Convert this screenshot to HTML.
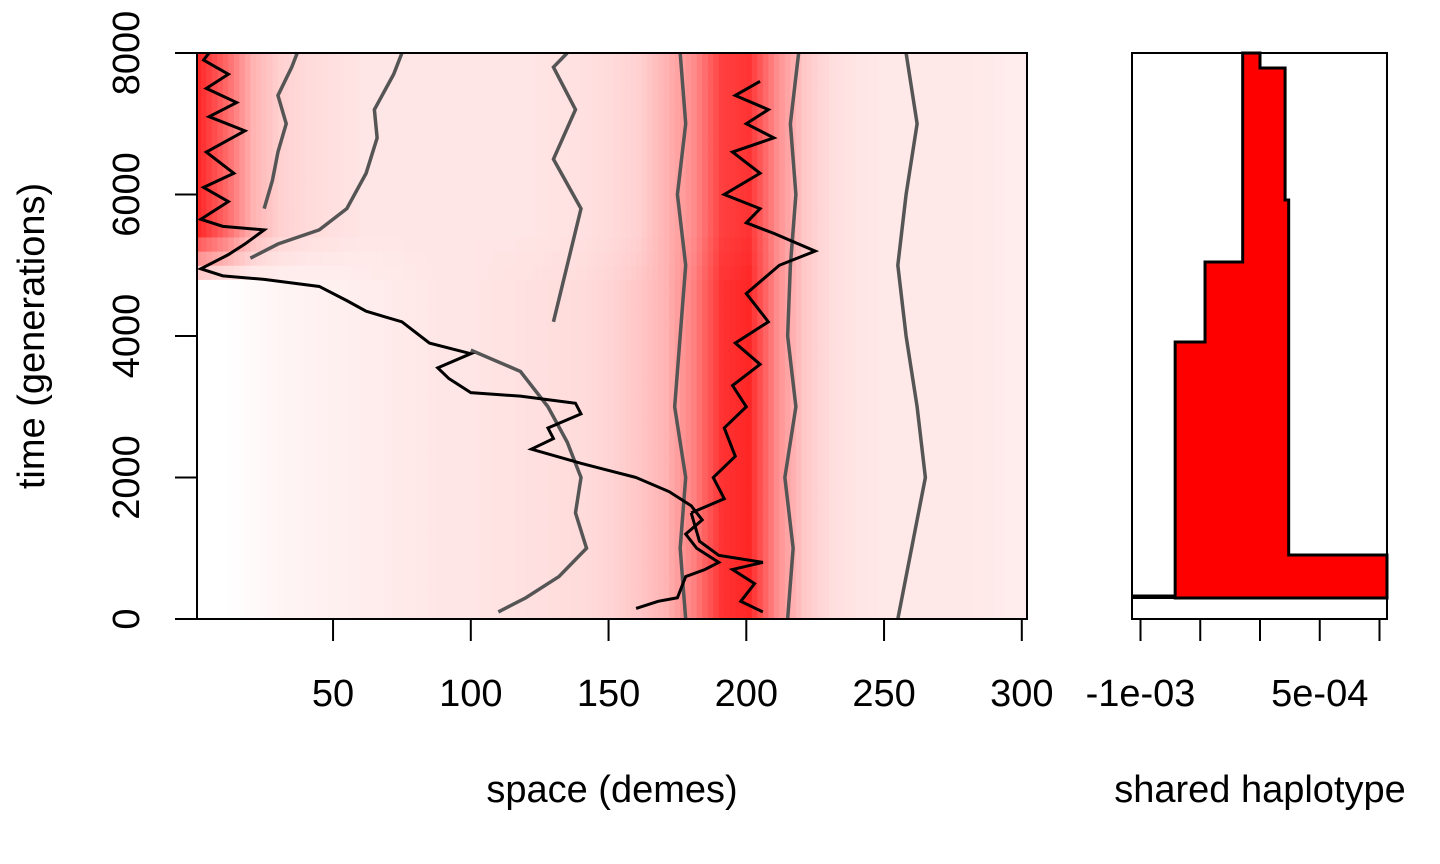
<!DOCTYPE html>
<html><head><meta charset="utf-8"><style>
html,body{margin:0;padding:0;background:#fff;}
svg{display:block;font-family:"Liberation Sans",sans-serif;}
</style></head><body>
<svg id="chart" width="1440" height="864" viewBox="0 0 1440 864">
<g id="heat"></g>
<g id="contours"></g>
<g id="lineages"></g>
<rect x="197" y="53" width="830" height="566" fill="none" stroke="#000" stroke-width="2"/>
<g id="xaxis"></g>
<g id="yaxis"></g>
<text x="612" y="802" font-size="38" text-anchor="middle">space (demes)</text>
<text transform="translate(44,336) rotate(-90)" font-size="38" text-anchor="middle">time (generations)</text>
<g id="hist"></g>
<rect x="1132" y="53" width="255" height="566" fill="none" stroke="#000" stroke-width="2"/>
<g id="x2axis"></g>
<text x="1260" y="802" font-size="38" text-anchor="middle">shared haplotype</text>
</svg>
<script>
// ---- data ----
const demeCols = [0,10,20,30,40,50,60,70,80,90,100,110,120,130,140,150,160,170,180,190,200,210,220,230,240,250,260,270,280,290,300];
const upperIntensity = [0.85,0.6,0.3,0.18,0.14,0.12,0.1,0.1,0.1,0.1,0.1,0.1,0.1,0.11,0.12,0.14,0.18,0.3,0.45,0.75,0.8,0.45,0.22,0.13,0.1,0.09,0.09,0.09,0.09,0.08,0.07];
const lowerIntensity = [0,0,0.02,0.04,0.05,0.06,0.07,0.08,0.09,0.1,0.1,0.11,0.12,0.13,0.14,0.17,0.22,0.3,0.5,0.8,0.85,0.45,0.22,0.13,0.1,0.09,0.09,0.09,0.09,0.08,0.07];
const xTicks = [50,100,150,200,250,300];
const yTicks = [0,2000,4000,6000,8000];
const lineageA = [[160,150],[168,250],[175,300],[178,600],[185,700],[190,800],[182,1000],[178,1200],[184,1400],[180,1600],[172,1800],[160,2000],[150,2100],[140,2200],[122,2400],[130,2550],[128,2700],[140,2900],[138,3050],[118,3150],[100,3200],[92,3400],[88,3550],[100,3750],[85,3900],[75,4200],[62,4350],[55,4500],[45,4700],[25,4800],[10,4850],[2,4950],[12,5150],[18,5300],[25,5500],[10,5550],[2,5650],[12,5900],[3,6100],[14,6300],[4,6600],[18,6900],[5,7100],[15,7300],[4,7500],[12,7700],[3,7900],[5,8000]];
const lineageB = [[180,1500],[192,1700],[188,2000],[196,2300],[192,2700],[200,3000],[195,3300],[205,3600],[196,3900],[208,4200],[200,4600],[212,5000],[225,5200],[210,5450],[200,5600],[205,5800],[192,6000],[205,6300],[195,6600],[210,6800],[200,7000],[208,7200],[196,7400],[205,7600]];
const lineageC = [[206,100],[198,250],[203,500],[195,700],[206,800],[190,900],[183,1100],[180,1500]];
const contour50L = [[25,5800],[28,6200],[30,6600],[33,7000],[30,7400],[35,7800],[37,8000]];
const contour05L = [[20,5100],[30,5300],[45,5500],[55,5800],[62,6300],[66,6800],[65,7200],[72,7700],[75,8000]];
const contour05M = [[100,3800],[118,3500],[128,3000],[135,2500],[140,2000],[138,1500],[142,1000],[132,600],[120,300],[110,100],[130,4200],[135,5000],[140,5800],[130,6500],[138,7200],[130,7800],[135,8000]];
const contour50M = [[178,0],[176,1000],[178,2000],[174,3000],[176,4000],[178,5000],[175,6000],[178,7000],[176,8000]];
const contour50R = [[215,0],[217,1000],[214,2000],[218,3000],[215,4000],[216,5000],[218,6000],[216,7000],[219,8000]];
const contour05R = [[255,0],[260,1000],[265,2000],[262,3000],[258,4000],[255,5000],[258,6000],[262,7000],[258,8000]];
const histTimes = [297,3915,5046,8000];
const histLeft = [-7.1e-4,-4.6e-4,-1.45e-4];
const histRightTimes = [297,905,5922,7788,8000];
const histRight = [1.07e-3,2.4e-4,2.1e-4,0];
const x2Ticks = [-1e-3,-5e-4,0,5e-4,1e-3];
const x2Labels = ["-1e-03","","","5e-04",""];

// ---- scales ----
const X = d => 195.3 + d*2.755;
const Y = t => 619 - t*566/8000;
const X2 = v => 1260 + v/1e-3*119.5;
const NS = "http://www.w3.org/2000/svg";
function mk(tag, parent){const e=document.createElementNS(NS,tag);parent.appendChild(e);return e;}

// heatmap
const heat = document.getElementById('heat');
function interp(arr, d){const i=Math.min(Math.floor(d/10),arr.length-2);const f=(d-demeCols[i])/10;return arr[i]*(1-f)+arr[i+1]*f;}
const ROW=200;
for(let t=0;t<8000;t+=ROW){
  let w = Math.min(1,Math.max(0,(t-4600)/800));
  for(let d=0; d<301; d+=2){
    const iv = interp(lowerIntensity,Math.min(d,300))*(1-w)+interp(upperIntensity,Math.min(d,300))*w;
    const g = Math.round(255*(1-Math.min(1,iv)));
    const r = mk('rect',heat);
    
    
    r.setAttribute('x',Math.max(197,X(d)));r.setAttribute('y',Y(t+ROW));
    r.setAttribute('width',2*2.755+0.5);r.setAttribute('height',566*ROW/8000+0.5);
    r.setAttribute('fill',`rgb(255,${g},${g})`);
  }
}
function poly(pts,parent,color,wd,name){
  const p=mk('polyline',parent);
  
  
  p.setAttribute('points',pts.map(q=>X(q[0])+','+Y(q[1])).join(' '));
  p.setAttribute('fill','none');p.setAttribute('stroke',color);p.setAttribute('stroke-width',wd);
}
const cg=document.getElementById('contours');
poly(contour50L,cg,'#555',3.5,'contour-0.5-left');
poly(contour05L,cg,'#555',3.5,'contour-0.05-left');
poly(contour05M.slice(0,10),cg,'#555',3.5,'contour-0.05-middle');
poly(contour05M.slice(10),cg,'#555',3.5,'contour-0.05-middle-upper');
poly(contour50M,cg,'#555',3.5,'contour-0.5-middle');
poly(contour50R,cg,'#555',3.5,'contour-0.5-right');
poly(contour05R,cg,'#555',3.5,'contour-0.05-right');
const lg=document.getElementById('lineages');
poly(lineageA,lg,'#000',3,'lineage-a');
poly(lineageB,lg,'#000',3,'lineage-b');
poly(lineageC,lg,'#000',3,'lineage-c');

// axes
const xa=document.getElementById('xaxis');
const xl=mk('line',xa);xl.setAttribute('x1',X(50));xl.setAttribute('x2',X(300));xl.setAttribute('y1',619);xl.setAttribute('y2',619);xl.setAttribute('stroke','#000');xl.setAttribute('stroke-width',2);
xTicks.forEach(v=>{
  const l=mk('line',xa);
  
  
  l.setAttribute('x1',X(v));l.setAttribute('x2',X(v));l.setAttribute('y1',619);l.setAttribute('y2',641);l.setAttribute('stroke','#000');l.setAttribute('stroke-width',2);
  const t=mk('text',xa);
  
  
  t.setAttribute('x',X(v));t.setAttribute('y',706);t.setAttribute('font-size',38);t.setAttribute('text-anchor','middle');t.textContent=v;
});
const ya=document.getElementById('yaxis');
const yl=mk('line',ya);yl.setAttribute('x1',197);yl.setAttribute('x2',197);yl.setAttribute('y1',Y(0));yl.setAttribute('y2',Y(8000));yl.setAttribute('stroke','#000');yl.setAttribute('stroke-width',2);
yTicks.forEach(v=>{
  const l=mk('line',ya);
  
  
  l.setAttribute('x1',175);l.setAttribute('x2',197);l.setAttribute('y1',Y(v));l.setAttribute('y2',Y(v));l.setAttribute('stroke','#000');l.setAttribute('stroke-width',2);
  const t=mk('text',ya);
  
  
  t.setAttribute('transform',`translate(139,${Y(v)}) rotate(-90)`);t.setAttribute('font-size',38);t.setAttribute('text-anchor','middle');t.textContent=v;
});

// side panel
const hg=document.getElementById('hist');
let pts=[[X2(histLeft[0]),Y(histTimes[0])]];
for(let i=0;i<histLeft.length;i++){pts.push([X2(histLeft[i]),Y(histTimes[i])]);pts.push([X2(histLeft[i]),Y(histTimes[i+1])]);}
for(let i=histRight.length-1;i>=0;i--){pts.push([Math.min(1387,X2(histRight[i])),Y(histRightTimes[i+1])]);pts.push([Math.min(1387,X2(histRight[i])),Y(histRightTimes[i])]);}
const hp=mk('polygon',hg);


hp.setAttribute('points',pts.map(p=>p.join(',')).join(' '));
hp.setAttribute('fill','#ff0000');hp.setAttribute('stroke','#000');hp.setAttribute('stroke-width',3);hp.setAttribute('stroke-linejoin','miter');
const bl=mk('line',hg);


bl.setAttribute('x1',1133);bl.setAttribute('x2',X2(histLeft[0]));bl.setAttribute('y1',Y(histTimes[0])-2);bl.setAttribute('y2',Y(histTimes[0])-2);bl.setAttribute('stroke','#000');bl.setAttribute('stroke-width',3);
const b2=mk('line',hg);b2.setAttribute('x1',1132);b2.setAttribute('x2',1387);b2.setAttribute('y1',598);b2.setAttribute('y2',598);b2.setAttribute('stroke','#000');b2.setAttribute('stroke-width',2);
const x2=document.getElementById('x2axis');
const x2l=mk('line',x2);x2l.setAttribute('x1',X2(-1e-3));x2l.setAttribute('x2',X2(1e-3));x2l.setAttribute('y1',619);x2l.setAttribute('y2',619);x2l.setAttribute('stroke','#000');x2l.setAttribute('stroke-width',2);
x2Ticks.forEach((v,i)=>{
  const l=mk('line',x2);
  
  
  l.setAttribute('x1',X2(v));l.setAttribute('x2',X2(v));l.setAttribute('y1',619);l.setAttribute('y2',641);l.setAttribute('stroke','#000');l.setAttribute('stroke-width',2);
  if(x2Labels[i]){const t=mk('text',x2);
  
  
  t.setAttribute('x',X2(v));t.setAttribute('y',706);t.setAttribute('font-size',38);t.setAttribute('text-anchor','middle');t.textContent=x2Labels[i];}
});
</script>
</body></html>
